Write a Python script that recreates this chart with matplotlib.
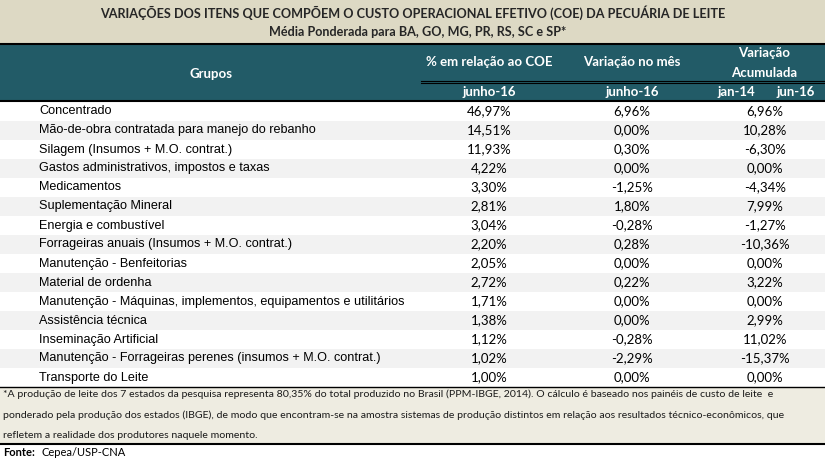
import matplotlib.pyplot as plt
from matplotlib.patches import Rectangle

# table content
title = "VARIAÇÕES DOS ITENS QUE COMPÕEM O CUSTO OPERACIONAL EFETIVO (COE) DA PECUÁRIA DE LEITE"
subtitle = "Média Ponderada para BA, GO, MG, PR, RS, SC e SP*"

grupos = [
    "Concentrado",
    "Mão-de-obra contratada para manejo do rebanho",
    "Silagem (Insumos + M.O. contrat.)",
    "Gastos administrativos, impostos e taxas",
    "Medicamentos",
    "Suplementação Mineral",
    "Energia e combustível",
    "Forrageiras anuais (Insumos + M.O. contrat.)",
    "Manutenção - Benfeitorias",
    "Material de ordenha",
    "Manutenção - Máquinas, implementos, equipamentos e utilitários",
    "Assistência técnica",
    "Inseminação Artificial",
    "Manutenção - Forrageiras perenes (insumos + M.O. contrat.)",
    "Transporte do Leite",
]
pct_coe = [46.97, 14.51, 11.93, 4.22, 3.30, 2.81, 3.04, 2.20, 2.05, 2.72, 1.71, 1.38, 1.12, 1.02, 1.00]
var_mes = [6.96, 0.00, 0.30, 0.00, -1.25, 1.80, -0.28, 0.28, 0.00, 0.22, 0.00, 0.00, -0.28, -2.29, 0.00]
var_acum = [6.96, 10.28, -6.30, 0.00, -4.34, 7.99, -1.27, -10.36, 0.00, 3.22, 0.00, 2.99, 11.02, -15.37, 0.00]

footnote = [
    "*A produção de leite dos 7 estados da pesquisa representa 80,35% do total produzido no Brasil (PPM-IBGE, 2014). O cálculo é baseado nos painéis de custo de leite  e",
    "ponderado pela produção dos estados (IBGE), de modo que encontram-se na amostra sistemas de produção distintos em relação aos resultados técnico-econômicos, que",
    "refletem a realidade dos produtores naquele momento.",
]
fonte = "Cepea/USP-CNA"

TEAL = "#225b67"
TAN = "#ddd9c4"
TAN_LIGHT = "#eeece1"
GRAY_ROW = "#f2f2f2"
CAL = "Lato"
ARIAL = "Liberation Sans"


def fmt(v):
    return f"{v:.2f}%".replace(".", ",")


W, H = 825, 463
fig = plt.figure(figsize=(W / 100, H / 100), dpi=100)
ax = fig.add_axes([0, 0, 1, 1])
ax.set_xlim(0, W)
ax.set_ylim(H, 0)
ax.axis("off")

# title band
ax.add_patch(Rectangle((0, 0), W, 44, color=TAN, lw=0))
ax.text(413, 13, title, ha="center", va="center", fontsize=9.1, fontweight="bold",
        family=CAL, color="#262626")
ax.text(418, 32.5, subtitle, ha="center", va="center", fontsize=9.1, fontweight="bold",
        family=CAL, color="#262626")
ax.plot([0, W], [44, 44], color="black", lw=1.5)

# header
ax.add_patch(Rectangle((0, 44.5), W, 56, color=TEAL, lw=0))
hdr = dict(ha="center", va="center", fontsize=9.5, fontweight="bold", family=CAL, color="white")
ax.text(211, 74, "Grupos", **hdr)
ax.text(489, 62, "% em relação ao COE", **hdr)
ax.text(632, 62, "Variação no mês", **hdr)
ax.text(764, 53, "Variação", **hdr)
ax.text(764, 73, "Acumulada", **hdr)
ax.plot([421, W], [81, 81], color="black", lw=0.8)
ax.plot([421, W], [83.3, 83.3], color="black", lw=0.8)
ax.text(489, 92.5, "junho-16", **hdr)
ax.text(632, 92.5, "junho-16", **hdr)
ax.text(736, 92.5, "jan-14", **hdr)
ax.text(796, 92.5, "jun-16", **hdr)
ax.plot([0, W], [101, 101], color="black", lw=1.5)

# body rows
row_h = 19
top = 101.5
for i, g in enumerate(grupos):
    y0 = top + i * row_h
    if i % 2 == 1:
        ax.add_patch(Rectangle((0, y0), W, row_h, color=GRAY_ROW, lw=0))
    yc = y0 + row_h / 2 + 0.5
    ax.text(39, yc, g, ha="left", va="center", fontsize=9.1, family=ARIAL, color="black")
    ax.text(489, yc, fmt(pct_coe[i]), ha="center", va="center", fontsize=9.5, family=CAL)
    ax.text(632, yc, fmt(var_mes[i]), ha="center", va="center", fontsize=9.5, family=CAL)
    ax.text(765, yc, fmt(var_acum[i]), ha="center", va="center", fontsize=9.5, family=CAL)

# footnote band
y_fn = top + len(grupos) * row_h
ax.add_patch(Rectangle((0, y_fn), W, 443 - y_fn, color=TAN_LIGHT, lw=0))
ax.plot([0, W], [y_fn, y_fn], color="black", lw=1)
for k, line in enumerate(footnote):
    ax.text(3, 394 + k * 21, line, ha="left", va="center", fontsize=7.55, family=CAL, color="#1a1a1a")
ax.plot([0, W], [443.5, 443.5], color="black", lw=1.5)
ax.text(3, 452.5, "Fonte:", ha="left", va="center", fontsize=8, fontweight="bold", family=CAL)
ax.text(41, 452.5, fonte, ha="left", va="center", fontsize=8, family=CAL)

fig.savefig("out.png", dpi=100)
